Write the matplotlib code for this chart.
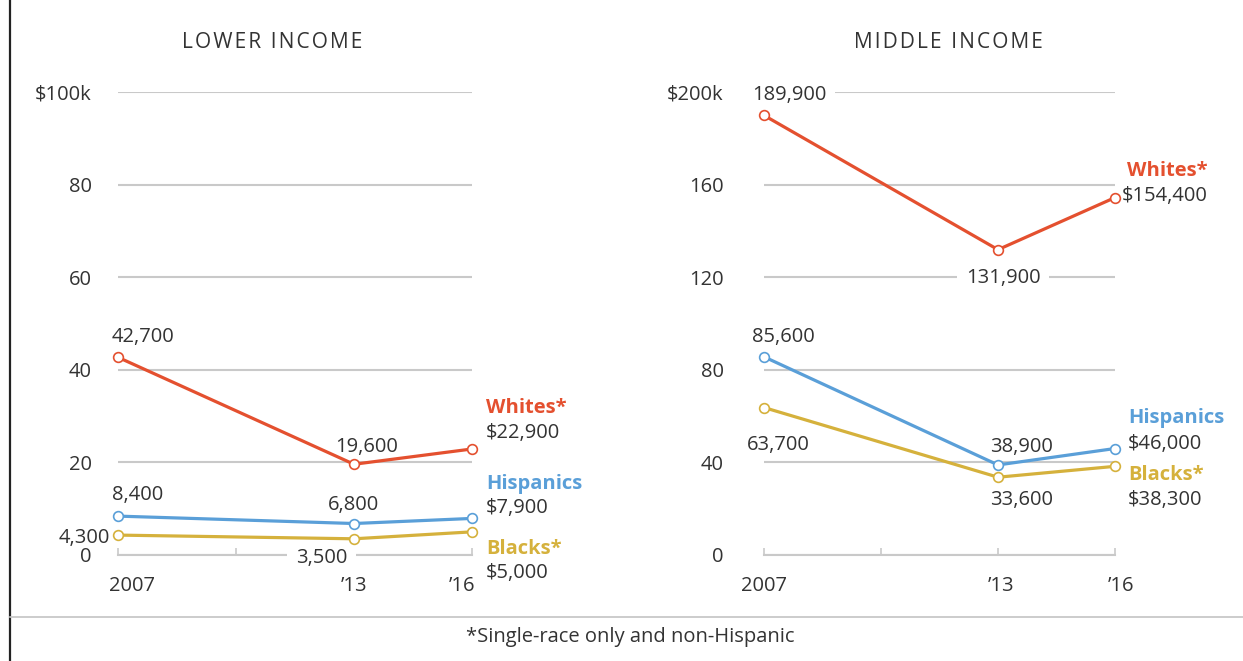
import matplotlib
matplotlib.use("Agg")
import matplotlib.pyplot as plt
import matplotlib.transforms as mtransforms
from matplotlib.lines import Line2D

plt.rcParams['font.family'] = ['Open Sans', 'DejaVu Sans']

years = [2007, 2013, 2016]
year_labels = ['2007', '', '\u201913', '\u201916']
year_ticks = [2007, 2010, 2013, 2016]

# values in $ thousands
lower_whites = [42.7, 19.6, 22.9]
lower_hispanics = [8.4, 6.8, 7.9]
lower_blacks = [4.3, 3.5, 5.0]
lower_text = {
    'whites': ['42,700', '19,600', '$22,900'],
    'hispanics': ['8,400', '6,800', '$7,900'],
    'blacks': ['4,300', '3,500', '$5,000'],
}

middle_whites = [189.9, 131.9, 154.4]
middle_hispanics = [85.6, 38.9, 46.0]
middle_blacks = [63.7, 33.6, 38.3]
middle_text = {
    'whites': ['189,900', '131,900', '$154,400'],
    'hispanics': ['85,600', '38,900', '$46,000'],
    'blacks': ['63,700', '33,600', '$38,300'],
}

lower_ticks = [0, 20, 40, 60, 80, 100]
lower_ticklabels = ['0', '20', '40', '60', '80', '$100k']
middle_ticks = [0, 40, 80, 120, 160, 200]
middle_ticklabels = ['0', '40', '80', '120', '160', '$200k']

names = {'whites': 'Whites*', 'hispanics': 'Hispanics', 'blacks': 'Blacks*'}
colors = {'whites': '#e4502f', 'hispanics': '#5a9fd8', 'blacks': '#d5b13c'}
txt = '#333333'
grid_c = '#c9c9c9'
fs = 14.5

W, H = 1243, 661
fig = plt.figure(figsize=(W / 100, H / 100), dpi=100)


def spaced(s):
    return '\u200a'.join(s)


def setup(ax, ticks, ticklabels, ypad, xshift):
    ax.set_xlim(2007, 2016)
    ax.set_ylim(0, ticks[-1])
    for sp in ['top', 'right', 'left']:
        ax.spines[sp].set_visible(False)
    ax.spines['bottom'].set_color(grid_c)
    ax.spines['bottom'].set_linewidth(1.5)
    ax.set_yticks(ticks)
    ax.set_yticklabels(ticklabels)
    ax.set_xticks(year_ticks)
    ax.set_xticklabels(year_labels)
    ax.tick_params(axis='y', length=0, pad=ypad, labelsize=fs, labelcolor=txt)
    ax.tick_params(axis='x', direction='in', length=5, width=1.2, color=grid_c,
                   pad=15, labelsize=fs, labelcolor=txt)
    ax.yaxis.grid(True, color=grid_c, linewidth=1.5)
    ax.set_axisbelow(True)
    for lab, dx in zip(ax.get_xticklabels(), xshift):
        off = mtransforms.ScaledTranslation(dx / 100, 0, fig.dpi_scale_trans)
        lab.set_transform(lab.get_transform() + off)


def draw(ax, series, texts, offsets):
    for key, vals in series.items():
        ax.plot(years, vals, color=colors[key], lw=2.3, marker='o', ms=7,
                mfc='white', mec=colors[key], mew=1.2, clip_on=False, zorder=5)
        for i, (v, t) in enumerate(zip(vals, texts[key])):
            dx, dy, ha, box = offsets[key][i]
            kw = {}
            if box:
                kw['bbox'] = dict(boxstyle='square,pad=0.45', fc='white', ec='none')
            ax.annotate(t, (years[i], v), xytext=(dx, -dy), textcoords='offset pixels',
                        ha=ha, va='center', fontsize=fs, color=txt, zorder=4,
                        annotation_clip=False, **kw)
        dx, dy = offsets[key][3]
        ax.annotate(names[key], (years[2], vals[2]), xytext=(dx, -dy),
                    textcoords='offset pixels', ha='left', va='center',
                    fontsize=fs, fontweight='bold', color=colors[key],
                    annotation_clip=False)


ax1 = fig.add_axes([118 / W, 1 - 555 / H, 354 / W, 463 / H])
setup(ax1, lower_ticks, lower_ticklabels, 19, [14, 0, 0, -10])
draw(ax1,
     {'whites': lower_whites, 'hispanics': lower_hispanics, 'blacks': lower_blacks},
     lower_text,
     {'whites': [(-6, -20, 'left', False), (13, -17, 'center', False), (14, -16, 'left', False), (14, -41)],
      'hispanics': [(-6, -21, 'left', False), (0, -19, 'center', False), (14, -10, 'left', False), (14, -34)],
      'blacks': [(-8, 3, 'right', False), (-7, 19, 'right', True), (14, 41, 'left', False), (14, 17)]})

ax2 = fig.add_axes([764 / W, 1 - 555 / H, 351 / W, 463 / H])
setup(ax2, middle_ticks, middle_ticklabels, 29, [0, 0, 3, 6])
draw(ax2,
     {'whites': middle_whites, 'hispanics': middle_hispanics, 'blacks': middle_blacks},
     middle_text,
     {'whites': [(-12, -20, 'left', True), (5, 28, 'center', True), (7, -2, 'left', False), (12, -27)],
      'hispanics': [(-12, -20, 'left', False), (-8, -18, 'left', False), (13, -5, 'left', False), (13, -31)],
      'blacks': [(-17, 37, 'left', False), (-8, 23, 'left', False), (13, 34, 'left', False), (13, 9)]})

# panel titles
fig.text(272 / W, 1 - 43 / H, spaced('LOWER INCOME'), ha='center', va='center',
         fontsize=15, color=txt)
fig.text(948 / W, 1 - 43 / H, spaced('MIDDLE INCOME'), ha='center', va='center',
         fontsize=15, color=txt)

# frame lines and footnote
fig.add_artist(Line2D([10 / W, 10 / W], [0, 1], color='#222222', lw=1.6))
fig.add_artist(Line2D([10 / W, 1], [1 - 617 / H] * 2, color='#c4c4c4', lw=1.2))
fig.text(630 / W, 1 - 637 / H, '*Single-race only and non-Hispanic',
         ha='center', va='center', fontsize=fs, color=txt)

fig.savefig('out.png', dpi=100)
